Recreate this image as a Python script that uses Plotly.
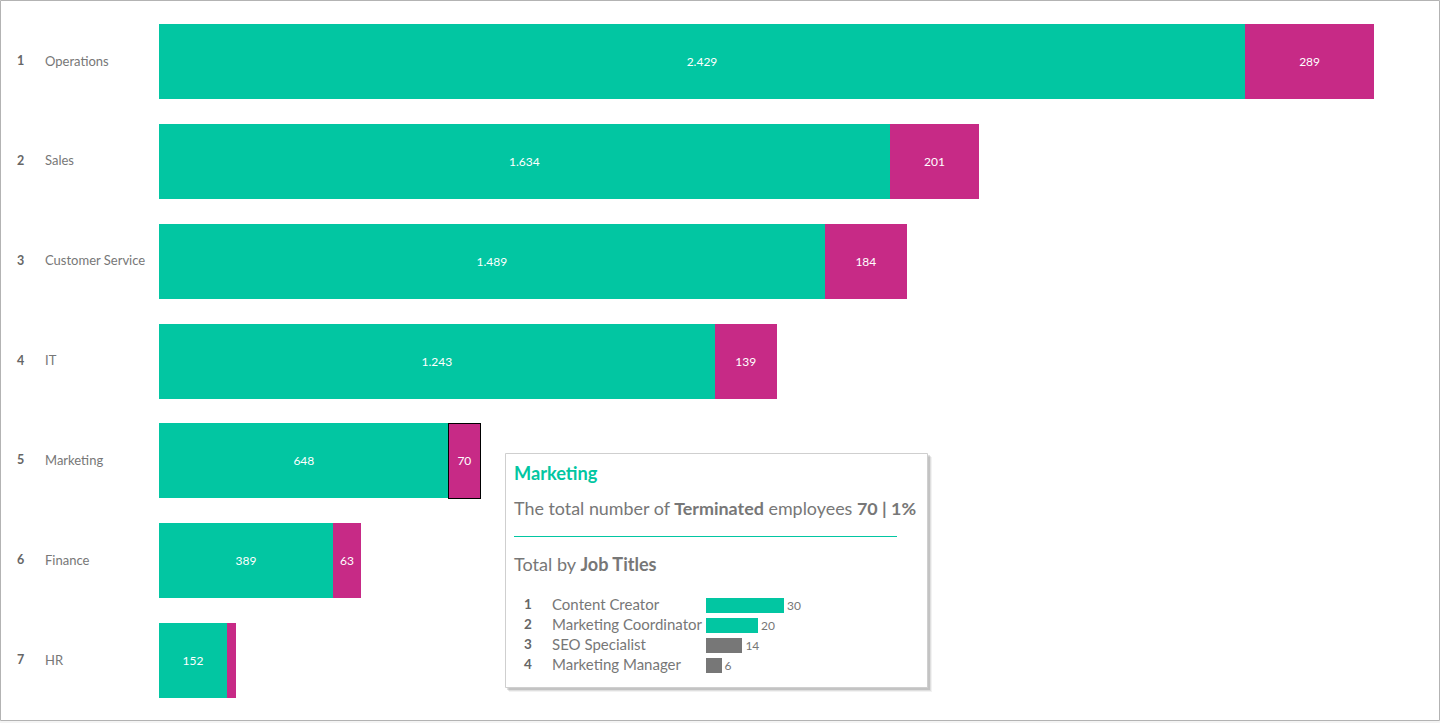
import plotly.graph_objects as go

W, H = 1440, 723
FONT = "Lato, 'Noto Sans', sans-serif"
GREEN = "#02C6A2"
MAGENTA = "#C72A86"
GREY = "#777777"
DARK = "#666666"

ranks = [1, 2, 3, 4, 5, 6, 7]
departments = ["Operations", "Sales", "Customer Service", "IT", "Marketing", "Finance", "HR"]
active = [2429, 1634, 1489, 1243, 648, 389, 152]
terminated = [289, 201, 184, 139, 70, 63, 20]
selected_department = "Marketing"

job_ranks = [1, 2, 3, 4]
job_titles = ["Content Creator", "Marketing Coordinator", "SEO Specialist", "Marketing Manager"]
job_totals = [30, 20, 14, 6]
job_colors = [GREEN, GREEN, GREY, GREY]


def px(x):
    return x / W


def py(y):
    return 1 - y / H


PX_PER_UNIT = 0.4471
MINI_PX_PER_UNIT = 2.6

fig = go.Figure()
fig.add_trace(go.Bar(
    y=departments, x=active, orientation="h", name="Active",
    marker=dict(color=GREEN, line=dict(width=0)),
    texttemplate="%{x:,}", textposition="inside", insidetextanchor="middle",
    textangle=0, insidetextfont=dict(color="white", size=12, family=FONT),
    xaxis="x", yaxis="y", hoverinfo="skip",
))
fig.add_trace(go.Bar(
    y=departments, x=terminated, orientation="h", name="Terminated",
    marker=dict(
        color=MAGENTA,
        line=dict(color="black", width=[1 if d == selected_department else 0 for d in departments]),
    ),
    texttemplate="%{x:,}", textposition="inside", insidetextanchor="middle",
    textangle=0, insidetextfont=dict(color="white", size=12, family=FONT),
    xaxis="x", yaxis="y", hoverinfo="skip",
))
fig.add_trace(go.Bar(
    y=job_titles, x=job_totals, orientation="h", name="Job titles",
    marker=dict(color=job_colors, line=dict(width=0)), width=0.75,
    text=job_totals, textposition="outside", cliponaxis=False,
    outsidetextfont=dict(color=GREY, size=12, family=FONT),
    xaxis="x2", yaxis="y2", hoverinfo="skip",
))

annotations = []


def note(x, y, text, size, color=GREY, xanchor="left", yref="paper", xref="paper"):
    annotations.append(dict(
        x=x, y=y, xref=xref, yref=yref, text=text, showarrow=False,
        xanchor=xanchor, yanchor="middle", align="left", borderpad=0, borderwidth=0,
        yshift=1,
        font=dict(family=FONT, size=size, color=color),
    ))


for r, d in zip(ranks, departments):
    note(px(20), d, f"<b>{r}</b>", 12.5, DARK, "center", "y")
    note(px(44.5), d, d, 13, GREY, "left", "y")

note(px(514), py(474), "<b>Marketing</b>", 18.2, GREEN)
note(px(514), py(509),
     "The total number of <b>Terminated</b> employees <b>70 | 1%</b>", 17.9, GREY)
note(px(514), py(565), "Total by <b>Job Titles</b>", 18.1, GREY)
for r, t in zip(job_ranks, job_titles):
    note(px(528), t, f"<b>{r}</b>", 13.5, DARK, "center", "y2")
    note(px(552), t, t, 15, GREY, "left", "y2")

shapes = [
    dict(type="rect", xref="paper", yref="paper", x0=px(0.5), x1=px(1439.5), y0=py(720.5), y1=py(0.5),
         line=dict(color="#B3B3B3", width=1), fillcolor="rgba(0,0,0,0)", layer="below"),
    dict(type="rect", xref="paper", yref="paper", x0=0, x1=1, y0=0, y1=py(721),
         line=dict(width=0), fillcolor="#F4F4F4", layer="below"),
]
for off, alpha in [(4, 0.05), (3, 0.08), (2, 0.12)]:
    shapes.append(dict(type="rect", xref="paper", yref="paper",
                       x0=px(505 + off), x1=px(928 + off), y0=py(688 + off), y1=py(453 + off),
                       line=dict(width=0), fillcolor=f"rgba(0,0,0,{alpha})", layer="below"))
shapes.append(dict(type="rect", xref="paper", yref="paper",
                   x0=px(505.5), x1=px(927.5), y0=py(687.5), y1=py(453.5),
                   line=dict(color="#CFCFCF", width=1), fillcolor="white", layer="below"))
shapes.append(dict(type="line", xref="paper", yref="paper",
                   x0=px(514), x1=px(897), y0=py(536.5), y1=py(536.5),
                   line=dict(color=GREEN, width=1), layer="below"))

hidden = dict(visible=False, showgrid=False, zeroline=False, fixedrange=True)
fig.update_layout(
    width=W, height=H, margin=dict(l=0, r=0, t=0, b=0),
    paper_bgcolor="white", plot_bgcolor="rgba(0,0,0,0)",
    barmode="stack", bargap=0.25, showlegend=False, separators=",.",
    font=dict(family=FONT, color=GREY),
    uniformtext=dict(mode="hide", minsize=11),
    xaxis=dict(hidden, domain=[px(159), 1], range=[0, (W - 159) / PX_PER_UNIT]),
    yaxis=dict(hidden, domain=[py(710.5), py(11.7)], type="category",
               categoryorder="array", categoryarray=departments, range=[6.5, -0.5]),
    xaxis2=dict(hidden, domain=[px(706), px(906)], range=[0, 200 / MINI_PX_PER_UNIT], anchor="y2"),
    yaxis2=dict(hidden, domain=[py(675), py(595)], type="category", anchor="x2",
                categoryorder="array", categoryarray=job_titles, range=[3.5, -0.5]),
    annotations=annotations, shapes=shapes,
)

fig.write_html("out.html", config={"displayModeBar": False, "staticPlot": True},
               post_script="document.body.style.margin='0';")
